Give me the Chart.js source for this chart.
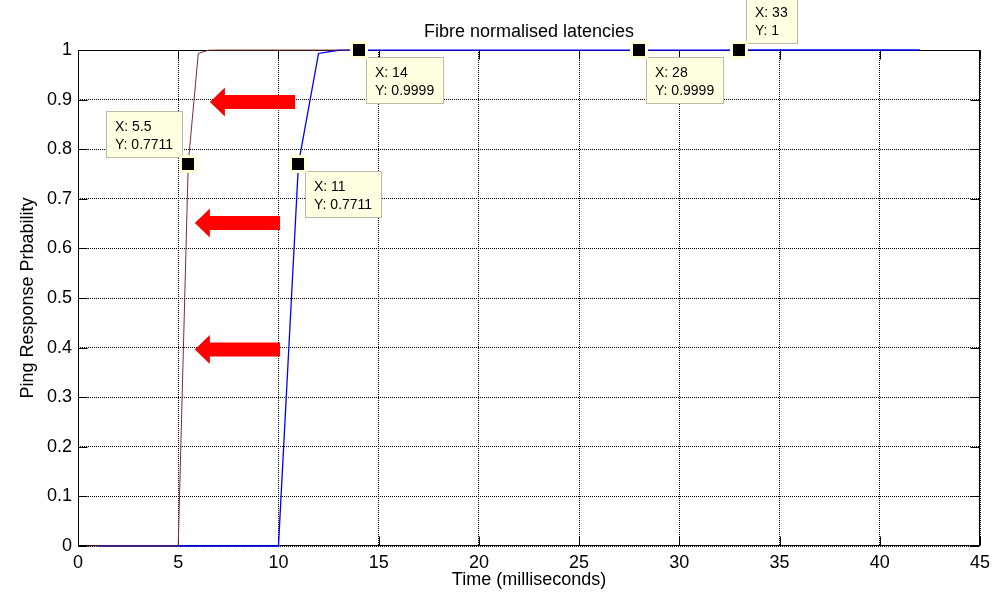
<!DOCTYPE html>
<html><head><meta charset="utf-8">
<script src="https://cdn.jsdelivr.net/npm/chart.js@4.4.0/dist/chart.umd.min.js"></script>
<style>html,body{margin:0;padding:0;background:#fff;} #wrap{width:1004px;height:595px;}</style>
</head><body><div id="wrap"><canvas id="c" width="1004" height="595"></canvas></div>
<script>
const titleText = 'Fibre normalised latencies';
const xAxisTitle = 'Time (milliseconds)';
const yAxisTitle = 'Ping Response Prbability';
const xTickValues = [0, 5, 10, 15, 20, 25, 30, 35, 40, 45];
const xTickLabels = ['0', '5', '10', '15', '20', '25', '30', '35', '40', '45'];
const yTickValues = [0, 0.1, 0.2, 0.3, 0.4, 0.5, 0.6, 0.7, 0.8, 0.9, 1];
const yTickLabels = ['0', '0.1', '0.2', '0.3', '0.4', '0.5', '0.6', '0.7', '0.8', '0.9', '1'];

const blueX = [1, 2, 3, 4, 5, 6, 7, 8, 9, 10, 11, 12, 13, 14, 15, 16, 17, 18, 19, 20, 21,
  22, 23, 24, 25, 26, 27, 28, 29, 30, 31, 32, 33, 34, 35, 36, 37, 38, 39, 40, 41, 42];
const blueY = [0, 0, 0, 0, 0, 0, 0, 0, 0, 0, 0.7711, 0.993, 0.9995, 0.9999, 0.9999, 0.9999, 0.9999,
  0.9999, 0.9999, 0.9999, 0.9999, 0.9999, 0.9999, 0.9999, 0.9999, 0.9999, 0.9999, 0.9999, 0.9999,
  0.9999, 0.9999, 0.9999, 1, 1, 1, 1, 1, 1, 1, 1, 1, 1];
const brownX = [0.5, 1, 1.5, 2, 2.5, 3, 3.5, 4, 4.5, 5, 5.5, 6, 6.5, 7, 7.5, 8, 8.5, 9, 9.5, 10, 10.5,
  11, 11.5, 12, 12.5, 13, 13.5, 14];
const brownY = [0, 0, 0, 0, 0, 0, 0, 0, 0, 0, 0.7711, 0.993, 0.9995, 0.9999, 0.9999, 0.9999, 0.9999,
  0.9999, 0.9999, 0.9999, 0.9999, 0.9999, 0.9999, 0.9999, 0.9999, 0.9999, 0.9999, 0.9999];

const tipX = [5.5, 11, 14, 28, 33];
const tipY = [0.7711, 0.7711, 0.9999, 0.9999, 1];
const tipLabelX = ['X: 5.5', 'X: 11', 'X: 14', 'X: 28', 'X: 33'];
const tipLabelY = ['Y: 0.7711', 'Y: 0.7711', 'Y: 0.9999', 'Y: 0.9999', 'Y: 1'];
const tipSide = ['upleft', 'downright', 'downright', 'downright', 'upright'];

const arrowY = [0.895, 0.651, 0.396];
const arrowHeadX = [6.58, 5.83, 5.83];
const arrowTailX = [10.83, 10.08, 10.08];

const FONT = '"Liberation Sans", Arial, Helvetica, sans-serif';

const decor = {
  id: 'decor',
  beforeDatasetsDraw(chart) {
    const {ctx, chartArea: a, scales: {x, y}} = chart;
    ctx.save();
    ctx.strokeStyle = '#000';
    ctx.lineWidth = 1;
    const L = Math.round(a.left) + 0.5, R = Math.round(a.right) - 0.5;
    const T = Math.round(a.top) + 0.5, B = Math.round(a.bottom) - 0.5;
    ctx.strokeRect(L, T, R - L, B - T);
    const tl = 9;
    ctx.beginPath();
    xTickValues.forEach(v => {
      const px = Math.round(x.getPixelForValue(v)) + 0.5;
      ctx.moveTo(px, B); ctx.lineTo(px, B - tl);
      ctx.moveTo(px, T); ctx.lineTo(px, T + tl);
    });
    yTickValues.forEach(v => {
      const py = Math.round(y.getPixelForValue(v)) + 0.5;
      ctx.moveTo(L, py); ctx.lineTo(L + tl, py);
      ctx.moveTo(R, py); ctx.lineTo(R - tl, py);
    });
    ctx.stroke();
    ctx.restore();
  },
  afterDatasetsDraw(chart) {
    const {ctx, scales: {x, y}} = chart;
    ctx.save();
    ctx.fillStyle = '#ff0000';
    arrowY.forEach((v, i) => {
      const cy = y.getPixelForValue(v);
      const hx = x.getPixelForValue(arrowHeadX[i]);
      const tx = x.getPixelForValue(arrowTailX[i]);
      const hl = 15, sh = 7, hh = 14.5;
      ctx.beginPath();
      ctx.moveTo(hx, cy);
      ctx.lineTo(hx + hl, cy - hh);
      ctx.lineTo(hx + hl, cy - sh);
      ctx.lineTo(tx, cy - sh);
      ctx.lineTo(tx, cy + sh);
      ctx.lineTo(hx + hl, cy + sh);
      ctx.lineTo(hx + hl, cy + hh);
      ctx.closePath();
      ctx.fill();
    });
    ctx.font = '14px ' + FONT;
    ctx.textBaseline = 'middle';
    ctx.textAlign = 'left';
    tipX.forEach((v, i) => {
      const mx = x.getPixelForValue(v);
      const my = y.getPixelForValue(tipY[i]);
      const w = Math.round(Math.max(ctx.measureText(tipLabelX[i]).width, ctx.measureText(tipLabelY[i]).width) + 18);
      const h = 46;
      let bx, by;
      const side = tipSide[i];
      if (side === 'upleft') { bx = mx - 6 - w; by = my - 7 - h; }
      else if (side === 'upright') { bx = mx + 7; by = my - 7 - h; }
      else { bx = mx + 7; by = my + 7; }
      bx = Math.round(bx) + 0.5; by = Math.round(by) + 0.5;
      ctx.fillStyle = '#ffffe1';
      ctx.fillRect(bx, by, w, h);
      ctx.strokeStyle = 'rgba(170,170,150,0.8)';
      ctx.lineWidth = 1;
      ctx.strokeRect(bx, by, w, h);
      ctx.fillStyle = '#000';
      ctx.fillText(tipLabelX[i], bx + 8.5, by + 16);
      ctx.fillText(tipLabelY[i], bx + 8.5, by + 33.5);
      ctx.fillStyle = '#ffffd8';
      ctx.fillRect(Math.round(mx) - 9, Math.round(my) - 9, 18, 18);
      ctx.fillStyle = '#000';
      ctx.fillRect(Math.round(mx) - 6, Math.round(my) - 6, 12, 12);
    });
    ctx.restore();
  },
  afterDraw(chart) {
    const {ctx, chartArea: a} = chart;
    ctx.save();
    ctx.font = '18px ' + FONT;
    ctx.fillStyle = '#000';
    ctx.textAlign = 'center';
    ctx.textBaseline = 'middle';
    ctx.fillText(titleText, (a.left + a.right) / 2, 32);
    ctx.restore();
  }
};

const tickFont = {family: FONT, size: 18};

new Chart(document.getElementById('c'), {
  type: 'line',
  data: {
    datasets: [
      {
        label: 'brown',
        data: brownX.map((v, i) => ({x: v, y: brownY[i]})),
        borderColor: 'rgb(125,45,45)',
        borderWidth: 1,
        pointRadius: 0,
        tension: 0,
        clip: 3
      },
      {
        label: 'blue',
        data: blueX.map((v, i) => ({x: v, y: blueY[i]})),
        borderColor: '#0000ff',
        borderWidth: 1.3,
        pointRadius: 0,
        tension: 0,
        clip: 3
      }
    ]
  },
  options: {
    responsive: false,
    animation: false,
    devicePixelRatio: 1,
    layout: {padding: {top: 50, right: 24, bottom: 0, left: 0}},
    plugins: {legend: {display: false}, tooltip: {enabled: false}, title: {display: false}},
    scales: {
      x: {
        type: 'linear', min: 0, max: 45,
        afterBuildTicks: s => { s.ticks = xTickValues.map(v => ({value: v})); },
        afterFit: s => { s.height = 49; },
        ticks: {callback: (v, i) => xTickLabels[i], font: tickFont, color: '#000', padding: 6, maxRotation: 0, autoSkip: false},
        grid: {color: '#000', lineWidth: 1, drawTicks: false},
        border: {display: false, dash: [1, 1]},
        title: {display: true, text: xAxisTitle, font: tickFont, color: '#000', padding: {top: 0, bottom: 4}}
      },
      y: {
        type: 'linear', min: 0, max: 1,
        afterBuildTicks: s => { s.ticks = yTickValues.map(v => ({value: v})); },
        afterFit: s => { s.width = 78; },
        ticks: {callback: (v, i) => yTickLabels[i], font: tickFont, color: '#000', padding: 6, autoSkip: false},
        grid: {color: '#000', lineWidth: 1, drawTicks: false},
        border: {display: false, dash: [1, 1]},
        title: {display: true, text: yAxisTitle, font: tickFont, color: '#000', padding: {top: 17, bottom: 0}}
      }
    }
  },
  plugins: [decor]
});
</script>
</body></html>
